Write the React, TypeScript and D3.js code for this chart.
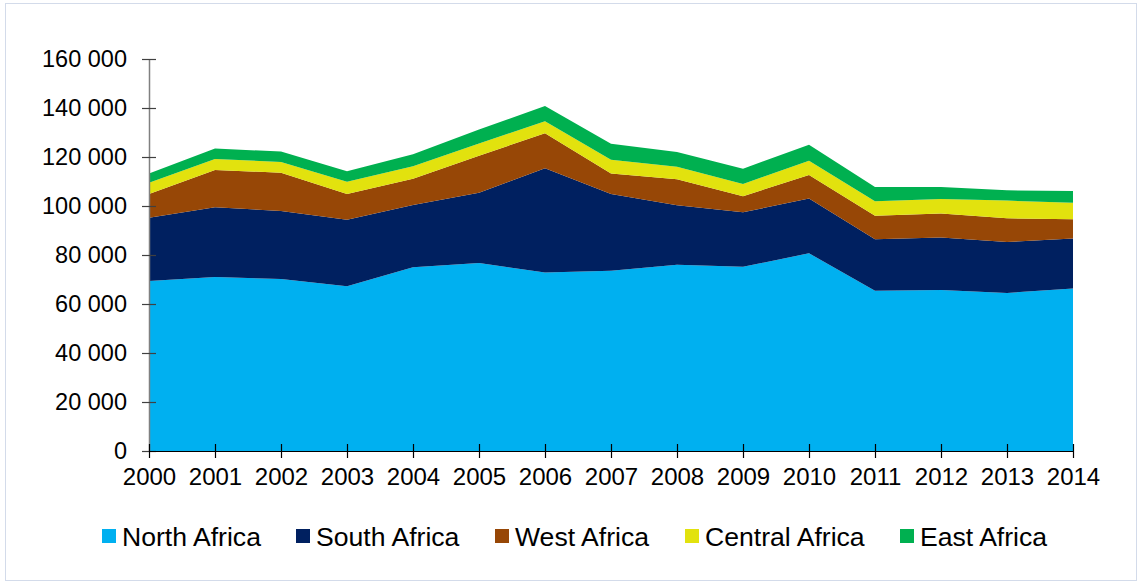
import * as d3 from 'd3';
import { useEffect, useRef } from 'react';

const years = [2000, 2001, 2002, 2003, 2004, 2005, 2006, 2007, 2008, 2009, 2010, 2011, 2012, 2013, 2014];

const northAfrica = [69400, 71000, 70200, 67200, 75000, 76700, 72900, 73600, 76000, 75200, 80700, 65400, 65700, 64500, 66300];
const southAfrica = [25800, 28500, 27800, 27200, 25400, 28700, 42500, 31300, 24300, 22200, 22400, 21000, 21400, 20800, 20400];
const westAfrica = [9700, 15200, 15600, 10500, 10700, 15100, 14300, 8400, 10600, 6600, 9600, 9600, 9800, 9700, 7900];
const centralAfrica = [4600, 4500, 4400, 5000, 5100, 5000, 4900, 5600, 5100, 5000, 5800, 5900, 6000, 7200, 6700];
const eastAfrica = [3800, 4300, 4200, 4300, 4900, 5700, 6200, 6500, 6000, 6200, 6500, 5900, 4900, 4200, 4800];

const seriesNames = ['North Africa', 'South Africa', 'West Africa', 'Central Africa', 'East Africa'];
const seriesColors = ['#00b0f0', '#002060', '#974706', '#e2e20e', '#00b050'];
const yTicks = [0, 20000, 40000, 60000, 80000, 100000, 120000, 140000, 160000];

const W = 1137;
const H = 584;

const App = () => {
  const ref = useRef<SVGSVGElement>(null);

  useEffect(() => {
    const margin = { top: 59, right: 64, bottom: 133, left: 149 };
    const svg = d3.select(ref.current);
    svg.selectAll('*').remove();

    const font = '"Liberation Sans", Arial, sans-serif';

    svg
      .append('rect')
      .attr('x', 5.5)
      .attr('y', 3.5)
      .attr('width', W - 6)
      .attr('height', 577)
      .attr('fill', '#fff')
      .attr('stroke', '#d3dbea')
      .attr('stroke-width', 1);

    const allSeries = [northAfrica, southAfrica, westAfrica, centralAfrica, eastAfrica];
    const rows = years.map((year, i) => {
      const row: any = { year };
      seriesNames.forEach((name, k) => (row[name] = allSeries[k][i]));
      return row;
    });

    const layers = d3.stack().keys(seriesNames)(rows);

    const x = d3
      .scaleLinear()
      .domain([years[0], years[years.length - 1]])
      .range([margin.left, W - margin.right]);

    const y = d3
      .scaleLinear()
      .domain([0, 160000])
      .range([H - margin.bottom, margin.top]);

    const area = d3
      .area<any>()
      .x((d) => x(d.data.year))
      .y0((d) => y(d[0]))
      .y1((d) => y(d[1]));

    svg
      .append('g')
      .selectAll('path')
      .data(layers)
      .join('path')
      .attr('fill', (_, i) => seriesColors[i])
      .attr('d', area);

    const fmt = (v: number) => d3.format(',')(v).replace(/,/g, ' ');

    // y axis
    svg
      .append('g')
      .attr('transform', `translate(${margin.left},0)`)
      .call(d3.axisLeft(y).tickValues(yTicks).tickSize(7).tickSizeOuter(0).tickFormat(fmt as any))
      .call((g) => g.select('.domain').attr('stroke', '#808080').attr('stroke-width', 1.5))
      .call((g) =>
        g
          .selectAll('.tick line')
          .attr('x1', 7)
          .attr('x2', -7)
          .attr('stroke', '#404040')
          .attr('stroke-width', 1.2),
      )
      .call((g) =>
        g
          .selectAll('.tick text')
          .attr('x', -22)
          .attr('font-size', 23.5)
          .attr('font-family', font)
          .attr('fill', '#000'),
      );

    // x axis
    svg
      .append('g')
      .attr('transform', `translate(0,${H - margin.bottom})`)
      .call(d3.axisBottom(x).tickValues(years).tickSize(7).tickSizeOuter(0).tickFormat(d3.format('d') as any))
      .call((g) => g.select('.domain').attr('stroke', '#000').attr('stroke-width', 1.2))
      .call((g) => g.selectAll('.tick line').attr('y1', -7).attr('y2', 7).attr('stroke', '#000').attr('stroke-width', 1.2))
      .call((g) =>
        g
          .selectAll('.tick text')
          .attr('y', 17)
          .attr('dy', '0.71em')
          .attr('font-size', 24)
          .attr('font-family', font)
          .attr('fill', '#000'),
      );

    // legend
    const legendX = [102, 296, 495, 685, 900];
    const legend = svg
      .append('g')
      .selectAll('g')
      .data(seriesNames)
      .join('g')
      .attr('transform', (_, i) => `translate(${legendX[i]},529)`);
    legend
      .append('rect')
      .attr('width', 14)
      .attr('height', 14)
      .attr('fill', (_, i) => seriesColors[i]);
    legend
      .append('text')
      .attr('x', 20)
      .attr('y', 17)
      .attr('font-size', 26.6)
      .attr('font-family', font)
      .attr('fill', '#000')
      .text((d) => d);
  }, []);

  return <svg ref={ref} width={W} height={H} style={{ position: 'absolute', left: 0, top: 0 }} />;
};

export default App;
